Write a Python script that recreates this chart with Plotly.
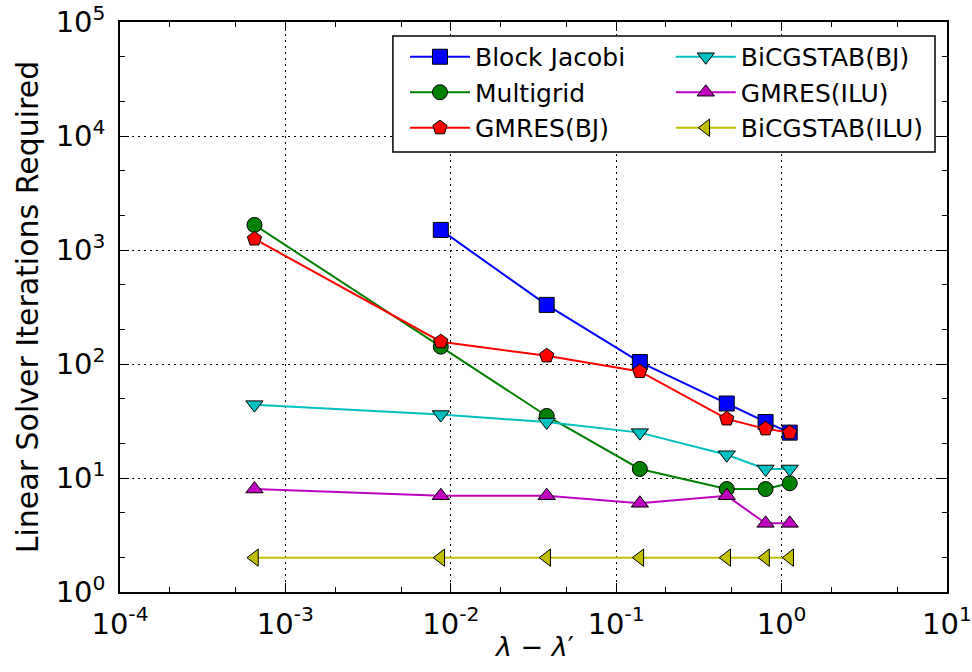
import plotly.graph_objects as go

# Shift distance between eigenvalues
shift = [6.5e-4, 8.7e-3, 0.038, 0.139, 0.466, 0.80, 1.12]

# Linear solver iterations required per method (None = not run)
block_jacobi = [None, 1500, 330, 104, 45, 31, 25]
multigrid = [1660, 142, 35, 12, 8, 8, 9]
gmres_bj = [1250, 157, 118, 86, 33, 27, 25]
bicgstab_bj = [44, 36, 31, 25, 16, 12, 12]
gmres_ilu = [8, 7, 7, 6, 7, 4, 4]
bicgstab_ilu = [2, 2, 2, 2, 2, 2, 2]

# Decade ticks and their labels
x_exponents = [-4, -3, -2, -1, 0, 1]
y_exponents = [0, 1, 2, 3, 4, 5]

FONT = "DejaVu Sans"

series = [
    ("Block Jacobi", block_jacobi, "#0000ff", "square", "legend"),
    ("Multigrid", multigrid, "#008000", "circle", "legend"),
    ("GMRES(BJ)", gmres_bj, "#ff0000", "pentagon", "legend"),
    ("BiCGSTAB(BJ)", bicgstab_bj, "#00bfbf", "triangle-down", "legend2"),
    ("GMRES(ILU)", gmres_ilu, "#bf00bf", "triangle-up", "legend2"),
    ("BiCGSTAB(ILU)", bicgstab_ilu, "#bfbf00", "triangle-left", "legend2"),
]

fig = go.Figure()
for name, vals, color, symbol, leg in series:
    fig.add_trace(go.Scatter(
        x=shift, y=vals, name=name, mode="lines+markers",
        line=dict(color=color, width=2),
        marker=dict(symbol=symbol, size=15, color=color,
                    line=dict(color="black", width=1)),
        legend=leg, legendgroup=name,
    ))


def power_labels(exps):
    return [f"10<sup>{e}</sup>" for e in exps]


axis_common = dict(
    type="log", automargin=False,
    showline=True, linecolor="black", linewidth=1.5, mirror="allticks",
    ticks="inside", ticklen=9, tickwidth=1, tickcolor="black",
    minor=dict(ticks="inside", ticklen=5, tickcolor="black", showgrid=False),
    showgrid=True, gridcolor="black", gridwidth=1, griddash="2px,4px",
    zeroline=False,
    tickfont=dict(family=FONT, size=29, color="black"),
)

fig.update_xaxes(range=[-4, 1], **axis_common,
                 tickvals=[10 ** e for e in x_exponents],
                 ticktext=power_labels(x_exponents),
                 ticklabelstandoff=5)
fig.update_yaxes(range=[0, 5], **axis_common,
                 tickvals=[10 ** e for e in y_exponents],
                 ticktext=power_labels(y_exponents),
                 ticklabelstandoff=7,
                 title=dict(text="Linear Solver Iterations Required",
                            font=dict(family=FONT, size=30, color="black"),
                            standoff=8))

legend_common = dict(
    bgcolor="rgba(0,0,0,0)", borderwidth=0,
    font=dict(family=FONT, size=25, color="black"),
    yanchor="top", xanchor="left", tracegroupgap=0,
    itemwidth=60,
)

fig.update_layout(
    width=972, height=672,
    margin=dict(l=120, r=25, t=22, b=80),
    plot_bgcolor="white", paper_bgcolor="white",
    font=dict(family=FONT, color="black"),
    legend=dict(x=0.3446, y=0.979, **legend_common),
    legend2=dict(x=0.666, y=0.979, **legend_common),
    shapes=[dict(type="rect", xref="paper", yref="paper",
                 x0=0.330, x1=0.9855, y0=0.772, y1=0.9754,
                 line=dict(color="black", width=1.5),
                 fillcolor="white", layer="above")],
    annotations=[dict(text="<i>λ</i> − <i>λ</i>′", xref="paper", yref="paper",
                      x=0.5, y=-0.096, xanchor="center", yanchor="middle",
                      showarrow=False,
                      font=dict(family=FONT, size=27, color="black"))],
)

fig.write_html("out.html")
